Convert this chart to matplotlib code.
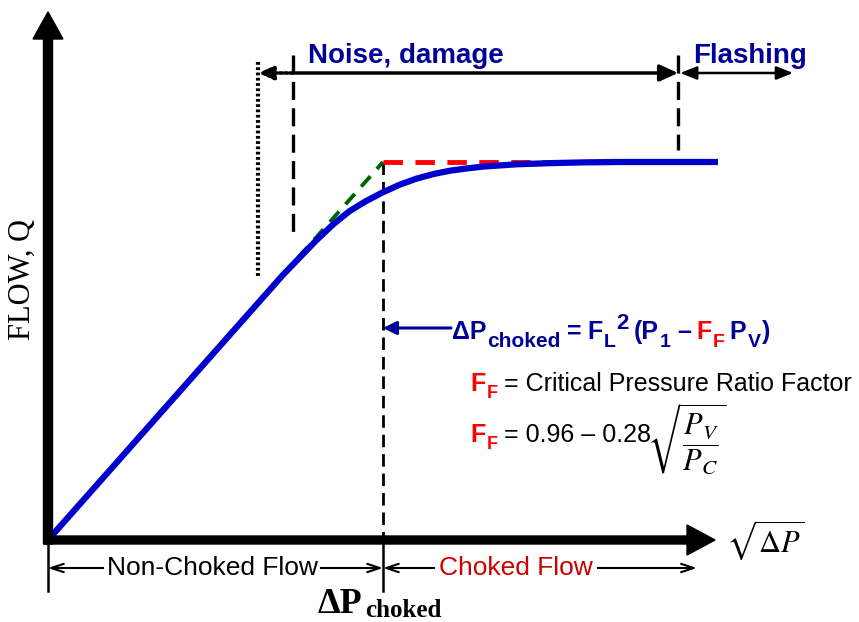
import matplotlib
matplotlib.use("Agg")
import matplotlib.pyplot as plt
import matplotlib.transforms as mt
import matplotlib.patches as mp

# ---------------- data (normalised units: choked point = (1, 1)) ----------------
sqrt_dp = [0.0, 0.30, 0.60, 0.65, 0.70, 0.75, 0.80, 0.85, 0.90, 0.95, 1.00, 1.05,
           1.10, 1.15, 1.20, 1.25, 1.30, 1.40, 1.50, 1.60, 1.70, 1.85, 2.00]
flow = [0.0, 0.30, 0.60, 0.65, 0.700, 0.746, 0.792, 0.834, 0.870, 0.897, 0.920, 0.940,
        0.956, 0.968, 0.977, 0.983, 0.988, 0.994, 0.997, 0.999, 1.000, 1.000, 1.000]
x_choked = 1.0          # sqrt(dP_choked)
q_limit = 1.0           # choked flow limit
tangent_x = [0.0, 1.0]
tangent_y = [0.0, 1.0]
limit_x = [1.0, 1.6]
limit_y = [1.0, 1.0]
x_dotted = 0.627        # dotted boundary
x_incipient = 0.731     # start of noise / damage
x_flashing = 1.881      # start of flashing
x_flash_end = 2.224
x_choked_flow_end = 1.937

# ---------------- figure / layout ----------------
W, H = 859, 622
X0, Y0 = 48, 540        # origin in pixels
UX, UY = 335, 378       # pixels per unit
plt.rcParams["lines.scale_dashes"] = False
fig = plt.figure(figsize=(W / 100, H / 100), dpi=100)
ax = fig.add_axes([0, 0, 1, 1])
ax.set_xlim(-X0 / UX, (W - X0) / UX)
ax.set_ylim(-(H - Y0) / UY, Y0 / UY)
ax.axis("off")

T = mt.Affine2D().scale(1 / W, -1 / H).translate(0, 1) + fig.transFigure   # pixel coords
B = mt.blended_transform_factory(ax.transData, T)                          # x data, y pixel

NAVY = "#000099"
BLUE = "#0000CC"
SANS = "Liberation Sans"
SERIF = "Liberation Serif"

# axes arrows
ax.add_patch(mp.FancyArrow(X0, Y0 + 4, 0, -(Y0 + 4 - 12), width=9, head_width=30, head_length=27,
                           length_includes_head=True, color="black", transform=T, zorder=6))
ax.add_patch(mp.FancyArrow(X0 - 4, Y0, 715 - X0 + 4, 0, width=8, head_width=30, head_length=28,
                           length_includes_head=True, color="black", transform=T, zorder=6))

# reference lines
ax.plot(tangent_x, tangent_y, color="#006400", lw=2.8, ls=(0, (10, 7)), zorder=3)
ax.plot(limit_x, limit_y, color="#FF0000", lw=3.5, ls=(0, (14, 9)), zorder=3)
ax.plot([x_choked, x_choked], [q_limit, 0], color="black", lw=2.0, ls=(0, (9, 5)), zorder=2)

# the flow curve
ax.plot(sqrt_dp, flow, color=BLUE, lw=4.5, solid_capstyle="butt", zorder=5)

# region boundaries at the top
ax.plot([x_incipient, x_incipient], [55, 238], transform=B, color="black", lw=2.4, ls=(0, (13, 6)))
ax.plot([x_flashing, x_flashing], [55, 150], transform=B, color="black", lw=2.4, ls=(0, (13, 6)))
ax.plot([x_dotted, x_dotted], [62, 278], transform=B, color="black", lw=3.0, ls=(0, (2.0, 1.8)))

ax.annotate("", xy=(x_flashing, 73), xycoords=B, xytext=(x_incipient, 73), textcoords=B,
            arrowprops=dict(arrowstyle="-|>,head_length=0.55,head_width=0.25", lw=2.5, color="black",
                            shrinkA=0, shrinkB=0, mutation_scale=20))
ax.annotate("", xy=(x_flash_end, 73), xycoords=B, xytext=(x_flashing + 0.006, 73), textcoords=B,
            arrowprops=dict(arrowstyle="<|-|>,head_length=0.55,head_width=0.22", lw=1.8, color="black",
                            shrinkA=0, shrinkB=0, mutation_scale=18))
ax.annotate("", xy=(x_dotted, 73), xycoords=B, xytext=(x_incipient, 73), textcoords=B,
            arrowprops=dict(arrowstyle="-|>,head_length=0.5,head_width=0.22", lw=2.6, color="black",
                            ls=(0, (2.0, 1.8)), shrinkA=0, shrinkB=0, mutation_scale=18))

ax.text(308, 63, "Noise, damage", transform=T, fontsize=20, fontweight="bold", color=NAVY,
        family=SANS, va="baseline", ha="left")
ax.text(693, 63, "Flashing", transform=T, fontsize=20, fontweight="bold", color=NAVY,
        family=SANS, va="baseline", ha="left")

# ticks and bottom annotations
for xv in (0.0, x_choked):
    ax.plot([xv, xv], [544, 591], transform=B, color="black", lw=1.8, zorder=6)
ax.annotate("", xy=(0.0, 568), xycoords=B, xytext=(x_choked, 568), textcoords=B,
            arrowprops=dict(arrowstyle="<->,head_length=0.6,head_width=0.2", lw=1.5, color="black",
                            shrinkA=0, shrinkB=0, mutation_scale=15))
ax.text(212, 568, "Non-Choked Flow", transform=T, fontsize=19, family=SANS, color="black",
        ha="center", va="center", bbox=dict(fc="white", ec="none", pad=1.5))
ax.annotate("", xy=(x_choked, 568), xycoords=B, xytext=(x_choked_flow_end, 568), textcoords=B,
            arrowprops=dict(arrowstyle="<->,head_length=0.6,head_width=0.2", lw=1.5, color="black",
                            shrinkA=0, shrinkB=0, mutation_scale=15))
ax.text(516, 568, "Choked Flow", transform=T, fontsize=19, family=SANS, color="#CC0000",
        ha="center", va="center", bbox=dict(fc="white", ec="none", pad=3))

ax.text(22, 279, "FLOW, Q", transform=T, fontsize=22, family=SERIF, rotation=90,
        ha="center", va="center")
ax.text(726, 540, r"$\sqrt{\Delta P}$", transform=T, fontsize=22, math_fontfamily="stix",
        ha="left", va="center")


def chain(x, y, pieces):
    """pieces: (text, kwargs, dy_px (up positive), gap_px)"""
    prev, prev_dy = None, 0
    for s, kw, dy, gap in pieces:
        if prev is None:
            t = ax.text(x, y - dy, s, transform=T, va="baseline", ha="left", **kw)
        else:
            t = ax.annotate(s, xy=(1, 0), xycoords=prev, xytext=(gap * 0.72, (dy - prev_dy) * 0.72),
                            textcoords="offset points", va="bottom", ha="left", **kw)
        prev, prev_dy = t, dy
    return prev


def st(size, color, weight="bold"):
    return dict(fontsize=size, color=color, fontweight=weight, family=SANS)


RED = "#FF0000"
chain(452, 339, [
    ("\u0394P", st(18, NAVY), 0, 0),
    ("choked", st(15, NAVY), -7, 1),
    ("=", st(18, NAVY), 0, 6),
    ("F", st(18, NAVY), 0, 6),
    ("L", st(14, NAVY), -7, 1),
    ("2", st(16, NAVY), 10, 1),
    ("(P", st(18, NAVY), 0, 5),
    ("1", st(14, NAVY), -7, 1),
    ("\u2013", st(18, NAVY), 0, 6),
    ("F", st(18, RED), 0, 6),
    ("F", st(14, RED), -7, 1),
    ("P", st(18, NAVY), 0, 5),
    ("V", st(14, NAVY), -7, 1),
    (")", st(18, NAVY), 0, 2),
])
ax.annotate("", xy=(x_choked, 328), xycoords=B, xytext=(451, 328), textcoords=T,
            arrowprops=dict(arrowstyle="-|>,head_length=0.5,head_width=0.25", lw=2.2, color=NAVY,
                            shrinkA=0, shrinkB=0, mutation_scale=16))

chain(470, 391, [
    ("F", st(18, RED), 0, 0),
    ("F", st(13, RED), -6, 1),
    ("= Critical Pressure Ratio Factor", st(18, "black", "normal"), 0, 7),
])
last = chain(470, 442, [
    ("F", st(18, RED), 0, 0),
    ("F", st(13, RED), -6, 1),
    ("= 0.96 \u2013 0.28", st(18, "black", "normal"), 0, 7),
])
ax.annotate(r"$\sqrt{\dfrac{P_V}{P_C}}$", xy=(1, 0.5), xycoords=last, xytext=(-3, -3),
            textcoords="offset points", va="center", ha="left", fontsize=22, math_fontfamily="stix")

# bottom label
lab = ax.text(318, 613, "\u0394P", transform=T, fontsize=26, fontweight="bold", family=SERIF,
              va="baseline", ha="left")
ax.annotate("choked", xy=(1, 0), xycoords=lab, xytext=(2, -1), textcoords="offset points",
            va="bottom", ha="left", fontsize=18, fontweight="bold", family=SERIF)

fig.savefig("out.png", dpi=100)
